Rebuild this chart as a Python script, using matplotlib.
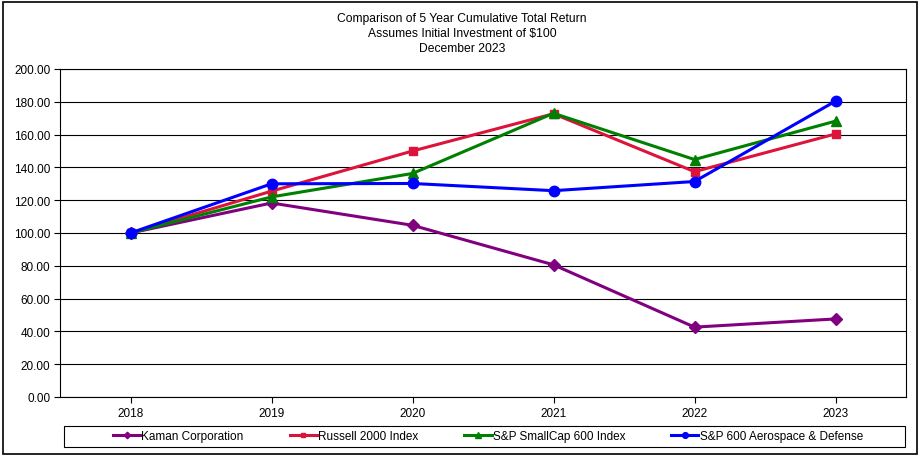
import matplotlib
matplotlib.use("Agg")
import matplotlib.pyplot as plt
from matplotlib.patches import Rectangle
from matplotlib.ticker import FormatStrFormatter

plt.rcParams["font.family"] = ["Liberation Sans", "DejaVu Sans"]

years = ["2018", "2019", "2020", "2021", "2022", "2023"]
kaman = [100.00, 118.3, 104.7, 80.6, 42.6, 47.6]
russell = [100.00, 125.5, 150.0, 172.7, 137.4, 160.4]
smallcap = [100.00, 122.0, 136.3, 173.0, 144.8, 168.2]
aerospace = [100.00, 130.0, 130.2, 125.8, 131.4, 180.4]

series = [
    ("Kaman Corporation", kaman, "#800080", "D", 6),
    ("Russell 2000 Index", russell, "#DC143C", "s", 6),
    ("S&P SmallCap 600 Index", smallcap, "#008000", "^", 7),
    ("S&P 600 Aerospace & Defense", aerospace, "#0000FF", "o", 7.5),
]

fig = plt.figure(figsize=(9.24, 4.6), dpi=100)
ax = fig.add_axes([60 / 924, 62 / 460, 846 / 924, 328 / 460])

x = range(len(years))
for label, values, color, marker, size in series:
    ax.plot(x, values, color=color, linewidth=2.2, marker=marker,
            markersize=size, label=label, clip_on=False, zorder=3)

ax.set_xlim(-0.5, len(years) - 0.5)
ax.set_ylim(0, 200)
ax.set_xticks(list(x))
ax.set_xticklabels(years)
ax.set_yticks(range(0, 201, 20))
ax.yaxis.set_major_formatter(FormatStrFormatter("%.2f"))
ax.tick_params(axis="both", labelsize=8.5, length=4, width=0.8, color="black",
               pad=3)
ax.grid(axis="y", color="black", linewidth=0.8)
ax.set_axisbelow(True)
for spine in ax.spines.values():
    spine.set_linewidth(0.8)
    spine.set_color("black")

fig.text(0.5, 1 - 34 / 460,
         "Comparison of 5 Year Cumulative Total Return\n"
         "Assumes Initial Investment of $100\n"
         "December 2023",
         ha="center", va="center", fontsize=8.7, linespacing=1.3)

leg = fig.legend(loc="center", bbox_to_anchor=(488 / 924, 1 - 437.5 / 460),
                 ncol=4, frameon=False, fontsize=8.5, handlelength=2.3,
                 handletextpad=0.1, columnspacing=3.9, markerscale=0.55)

# legend box and outer border
fig.patches.append(Rectangle((64 / 924, 1 - 448 / 460), 841 / 924, 21 / 460,
                             transform=fig.transFigure, fill=False,
                             edgecolor="black", linewidth=0.8))
fig.patches.append(Rectangle((3 / 924, 1 - 455 / 460), 914 / 924, 452 / 460,
                             transform=fig.transFigure, fill=False,
                             edgecolor="black", linewidth=1.2))

fig.savefig("out.png", dpi=100)
